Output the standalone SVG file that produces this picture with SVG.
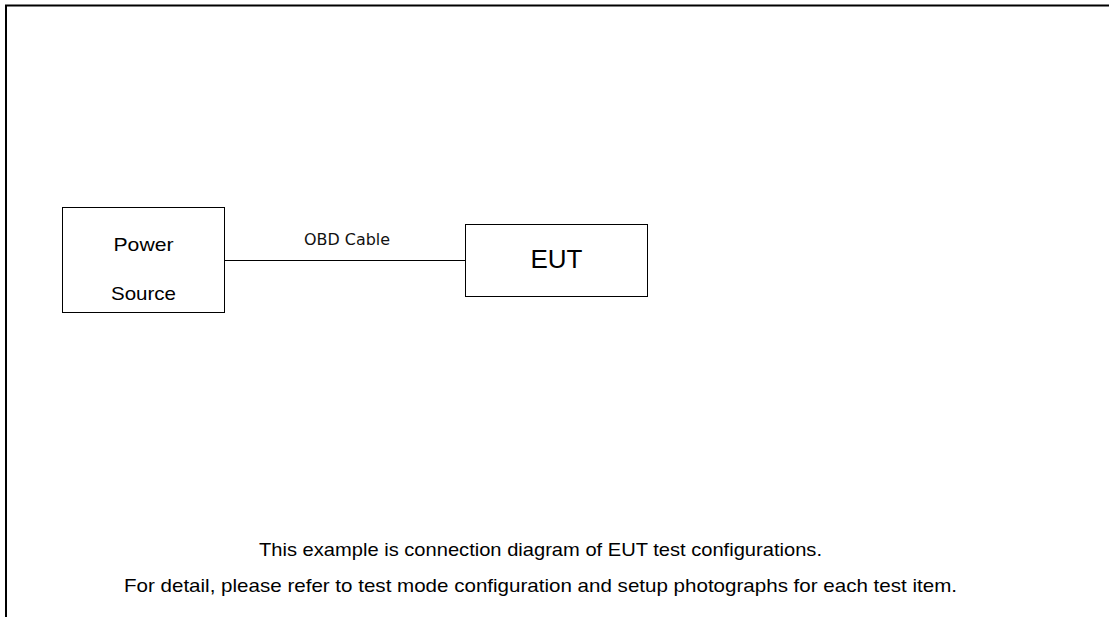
<svg xmlns="http://www.w3.org/2000/svg" width="1109" height="617" viewBox="0 0 1109 617">
<style>
.box{fill:#fff;stroke:#000;stroke-width:1}
.t{font-family:"Liberation Sans",Arial,sans-serif;fill:#000}
.lbl{font-family:"DejaVu Sans",Verdana,sans-serif;fill:#111}
</style>
<rect width="1109" height="617" fill="#fff"/>
<g id="frame">
<path d="M6,617 V5.5 H1109" fill="none" stroke="#000" stroke-width="2"/>
</g>
<g id="connectors">
<line x1="224.5" y1="260.5" x2="465" y2="260.5" stroke="#000" stroke-width="1"/>
<text class="lbl" x="304" y="244.5" font-size="15.5" textLength="86" lengthAdjust="spacingAndGlyphs">OBD Cable</text>
</g>
<g id="power-source">
<rect class="box" x="62.5" y="207.5" width="162" height="105"/>
<text class="t" x="143.5" y="251" font-size="19" text-anchor="middle" textLength="60" lengthAdjust="spacingAndGlyphs">Power</text>
<text class="t" x="143.5" y="300" font-size="19" text-anchor="middle" textLength="65" lengthAdjust="spacingAndGlyphs">Source</text>
</g>
<g id="eut">
<rect class="box" x="465.5" y="224.5" width="182" height="72"/>
<text class="t" x="556.5" y="268" font-size="26" text-anchor="middle">EUT</text>
</g>
<g id="notes">
<text class="t" x="540.5" y="556" font-size="19" text-anchor="middle" textLength="563" lengthAdjust="spacingAndGlyphs">This example is connection diagram of EUT test configurations.</text>
<text class="t" x="540.5" y="592" font-size="19" text-anchor="middle" textLength="833" lengthAdjust="spacingAndGlyphs">For detail, please refer to test mode configuration and setup photographs for each test item.</text>
</g>
</svg>
